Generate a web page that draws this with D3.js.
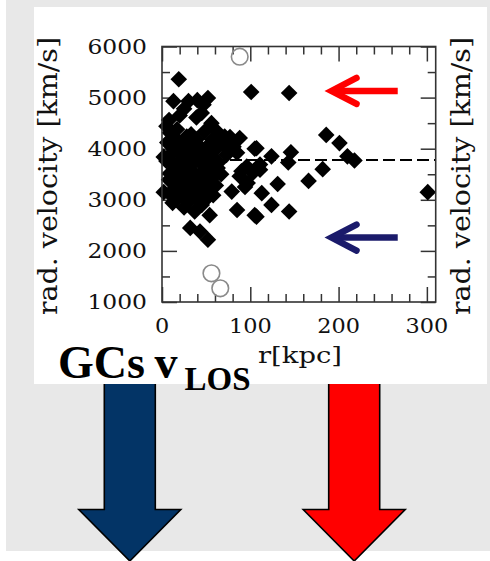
<!DOCTYPE html>
<html><head><meta charset="utf-8">
<script src="https://cdn.jsdelivr.net/npm/d3@7"></script>
<style>html,body{margin:0;padding:0;background:#fff;overflow:hidden}svg{display:block}</style>
</head><body>
<svg id="c" width="490" height="561"></svg>
<script>
// ---- data ----
const gcR = [19,101,144, 13,30,47,52,40, 20,39,25,8, 5,56,45,
  9,28,62,71,88,39,48,17, 105,85,69,81,77,
  124,146,143,107, 186,201,210,218,182,166,
  111,131,113,124,144,107,301,
  73,64,88,97,111,79,85,105, 94,103,96,90,
  12,37,54,32,43,52,25,45,
  6,11,19,27,35,44,53,61,
  2,9,17,24,32,41,49,57,
  5,13,21,29,37,46,54,63,
  9,18,26,34,43,51,59,67,
  8,12,20,28,36,45,53,61,
  2,10,18,26,35,43,51,58,
  12,16,24,32,40,48,
  14,33,57,65];
const gcV = [5360,5110,5090, 4930,4930,4860,4990,4950, 4650,4610,4780,4560, 4440,4500,4700,
  4310,4240,4340,4240,4210,4180,4330,4380, 4000,3920,4080,4040,4230,
  3850,3930,3730,4010, 4270,4110,3850,3770,3600,3370,
  3590,3310,3130,2900,2770,2670,3150,
  3880,3730,3460,3330,3690,3160,2800,2700, 3250,3530,3650,3560,
  2940,2770,2700,2450,2380,2220,2850,2900,
  4120,4060,4130,4050,4110,4020,4070,3990,
  3840,3880,3960,3860,3930,3850,3920,3840,
  3760,3700,3780,3690,3750,3680,3730,3620,
  3520,3600,3510,3570,3490,3540,3460,3500,
  3390,3330,3420,3340,3390,3310,3370,3280,
  3150,3150,3230,3160,3210,3120,3180,3090,
  3060,3000,3060,2990,3030,2980,
  4230,4280,4180,4150];
const openR = [88, 56, 66];
const openV = [5800, 1562, 1268];
const meanV = 3780;
const xMajor = [0,100,200,300];
const xMinor = [20,40,60,80,120,140,160,180,220,240,260,280];
const yMajor = [1000,2000,3000,4000,5000,6000];
const yMinor = [1500,2500,3500,4500,5500];
const annotR = [192, 267];
const annotV = [5130, 2260];
const annotColor = ["#ff0000", "#1b1b6b"];

// ---- drawing ----
const svg = d3.select('#c');
const x = d3.scaleLinear().domain([0,310]).range([162,435.7]);
const y = d3.scaleLinear().domain([1000,6000]).range([302,46.5]);
const X0 = x.range()[0], X1 = x.range()[1], Y0 = y.range()[0], Y1 = y.range()[1];

svg.append('rect').attr('x',6).attr('y',0).attr('width',484).attr('height',551).attr('fill','#e8e8e8');

// big arrows
function bigArrow(cx, fill){
  const pts = [[cx-25.5,370],[cx+25.5,370],[cx+25.5,509.5],[cx+51,509.5],[cx,561],[cx-51,509.5],[cx-25.5,509.5]];
  svg.append('polygon').attr('points',pts.map(p=>p.join(',')).join(' '))
    .attr('fill',fill).attr('stroke','#000').attr('stroke-width',1.6);
}
bigArrow(129.8,'#033466');
bigArrow(354.2,'#ff0000');

svg.append('rect').attr('x',34).attr('y',7).attr('width',453).attr('height',377).attr('fill','#fff');

// ticks
function ticks(axis, vals, size, tr){
  const g = svg.append('g').attr('transform',tr).style('color','#333');
  g.call(axis.tickValues(vals).tickSize(-size).tickSizeOuter(0).tickFormat(''));
  g.select('.domain').remove();
  g.selectAll('line').attr('stroke-width',1.5);
}
ticks(d3.axisBottom(x), xMajor, 15, `translate(0,${Y0})`);
ticks(d3.axisBottom(x), xMinor, 8, `translate(0,${Y0})`);
ticks(d3.axisTop(x), xMajor, 15, `translate(0,${Y1})`);
ticks(d3.axisTop(x), xMinor, 8, `translate(0,${Y1})`);
ticks(d3.axisLeft(y), yMajor, 15, `translate(${X0},0)`);
ticks(d3.axisLeft(y), yMinor, 8, `translate(${X0},0)`);
ticks(d3.axisRight(y), yMajor, 15, `translate(${X1},0)`);
ticks(d3.axisRight(y), yMinor, 8, `translate(${X1},0)`);

// mean line
svg.append('line').attr('x1',x(0)).attr('x2',X1).attr('y1',y(meanV)).attr('y2',y(meanV))
  .attr('stroke','#000').attr('stroke-width',2).attr('stroke-dasharray','12,5');

// diamonds
const sq = d3.symbol().type(d3.symbolSquare).size(138)();
svg.append('g').selectAll('path').data(gcR.map((r,i)=>[r,gcV[i]])).join('path')
  .attr('d',sq).attr('fill','#000')
  .attr('transform',d=>`translate(${x(d[0])},${y(d[1])}) rotate(45)`);

// open circles
svg.append('g').selectAll('circle').data(openR.map((r,i)=>[r,openV[i]])).join('circle')
  .attr('cx',d=>x(d[0])).attr('cy',d=>y(d[1])).attr('r',8.3)
  .attr('fill','none').attr('stroke','#8a8a8a').attr('stroke-width',1.6);

// frame
svg.append('rect').attr('x',X0).attr('y',Y1).attr('width',X1-X0).attr('height',Y0-Y1)
  .attr('fill','none').attr('stroke','#333').attr('stroke-width',1.6);

// tick labels
const font = "'DejaVu Serif', serif";
yMajor.forEach(v=>{
  svg.append('text').attr('transform',`translate(147,${y(v)+7.2}) scale(1.2,1)`)
    .attr('text-anchor','end').attr('font-family',font).attr('font-size',19.5).attr('fill','#111').text(v);
});
xMajor.forEach(r=>{
  svg.append('text').attr('transform',`translate(${x(r)},333) scale(1.12,1)`)
    .attr('text-anchor','middle').attr('font-family',font).attr('font-size',20).attr('fill','#111').text(r);
});

// axis titles
[57, 470].forEach(bx=>{
  svg.append('text').attr('transform',`translate(${bx},176) rotate(-90)`)
    .attr('text-anchor','middle').attr('font-family',font).attr('font-size',26).attr('fill','#111')
    .attr('textLength',278).attr('lengthAdjust','spacingAndGlyphs')
    .text('rad. velocity [km/s]');
});
svg.append('text').attr('x',300).attr('y',363).attr('text-anchor','middle')
  .attr('font-family',font).attr('font-size',22).attr('fill','#111')
  .attr('textLength',84).attr('lengthAdjust','spacingAndGlyphs').text('r[kpc]');

// annotation arrows
annotV.forEach((v,i)=>{
  const yy = y(v), xt = x(annotR[0]), xe = x(annotR[1]);
  svg.append('line').attr('x1',xe).attr('x2',xt+4).attr('y1',yy).attr('y2',yy)
    .attr('stroke',annotColor[i]).attr('stroke-width',6.5);
  svg.append('polyline').attr('points',`${xt+25},${yy-13} ${xt},${yy} ${xt+25},${yy+13}`)
    .attr('fill','none').attr('stroke',annotColor[i]).attr('stroke-width',6.5)
    .attr('stroke-linecap','round').attr('stroke-linejoin','miter');
});

// big label
const t = svg.append('text').attr('font-family',"'Liberation Serif','Times New Roman',serif")
  .attr('font-weight','bold').attr('fill','#000');
t.append('tspan').attr('x',58).attr('y',378).attr('font-size',46).text('GCs');
t.append('tspan').attr('x',154.5).attr('y',378).attr('font-size',46).text('v');
t.append('tspan').attr('x',184.5).attr('y',390).attr('font-size',33).text('LOS');
</script>
</body></html>
